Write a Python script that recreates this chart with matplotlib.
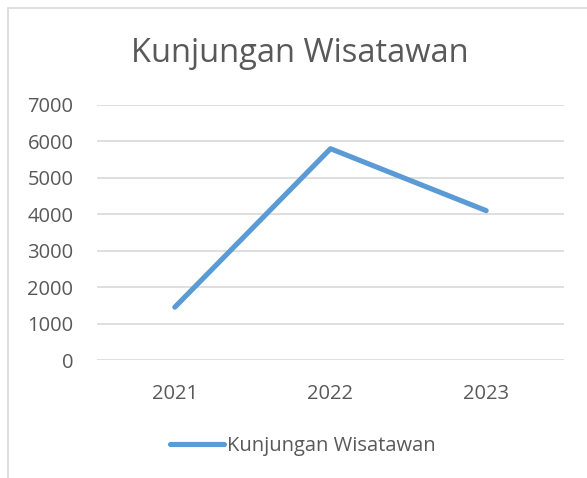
import matplotlib
matplotlib.use("Agg")
import matplotlib.pyplot as plt
from matplotlib.patches import Rectangle

# ------------------------------- Donnees ---------------------------------- #

tahun = ["2021", "2022", "2023"]
kunjungan = [1450, 5800, 4100]
y_ticks = [0, 1000, 2000, 3000, 4000, 5000, 6000, 7000]

BIRU = "#5B9BD5"
ABU_TEKS = "#595959"
ABU_GRID = "#D9D9D9"

plt.rcParams['font.family'] = ['Open Sans', 'DejaVu Sans']

# ------------------------------- Figure ----------------------------------- #

fig = plt.figure(figsize=(5.87, 4.78), dpi=100)
W, H = 587, 478

# bingkai chart (keluar dari gambar di kanan dan bawah)
fig.patches.append(Rectangle((8 / W, -0.1), 1.2, 1 - 8 / H + 0.1,
                             transform=fig.transFigure, fill=False,
                             edgecolor="#D9D9D9", lw=1.2))

ax = fig.add_axes([97 / W, 1 - 360 / H, (564 - 97) / W, (360 - 105) / H])

x = range(len(tahun))
ax.plot(x, kunjungan, color=BIRU, lw=3.7, solid_capstyle="round",
        solid_joinstyle="round", label="Kunjungan Wisatawan")

ax.set_xlim(-0.5, len(tahun) - 0.5)
ax.set_ylim(0, 7000)
ax.set_yticks(y_ticks)
ax.set_xticks(list(x))
ax.set_xticklabels(tahun)
ax.tick_params(length=0, labelsize=14.5, labelcolor=ABU_TEKS)
ax.tick_params(axis="y", pad=17)
ax.tick_params(axis="x", pad=17)
ax.grid(axis="y", color=ABU_GRID, lw=1.2)
ax.set_axisbelow(True)
for s in ax.spines.values():
    s.set_visible(False)

fig.text(300 / W, 1 - 54 / H, "Kunjungan Wisatawan", ha="center", va="center",
         fontsize=23.5, color=ABU_TEKS)

leg = fig.legend(loc="center", bbox_to_anchor=(303 / W, 1 - 446 / H),
                 frameon=False, fontsize=14.5, handlelength=2.7,
                 handletextpad=0.15, labelcolor=ABU_TEKS)

fig.savefig("out.png", dpi=100)
